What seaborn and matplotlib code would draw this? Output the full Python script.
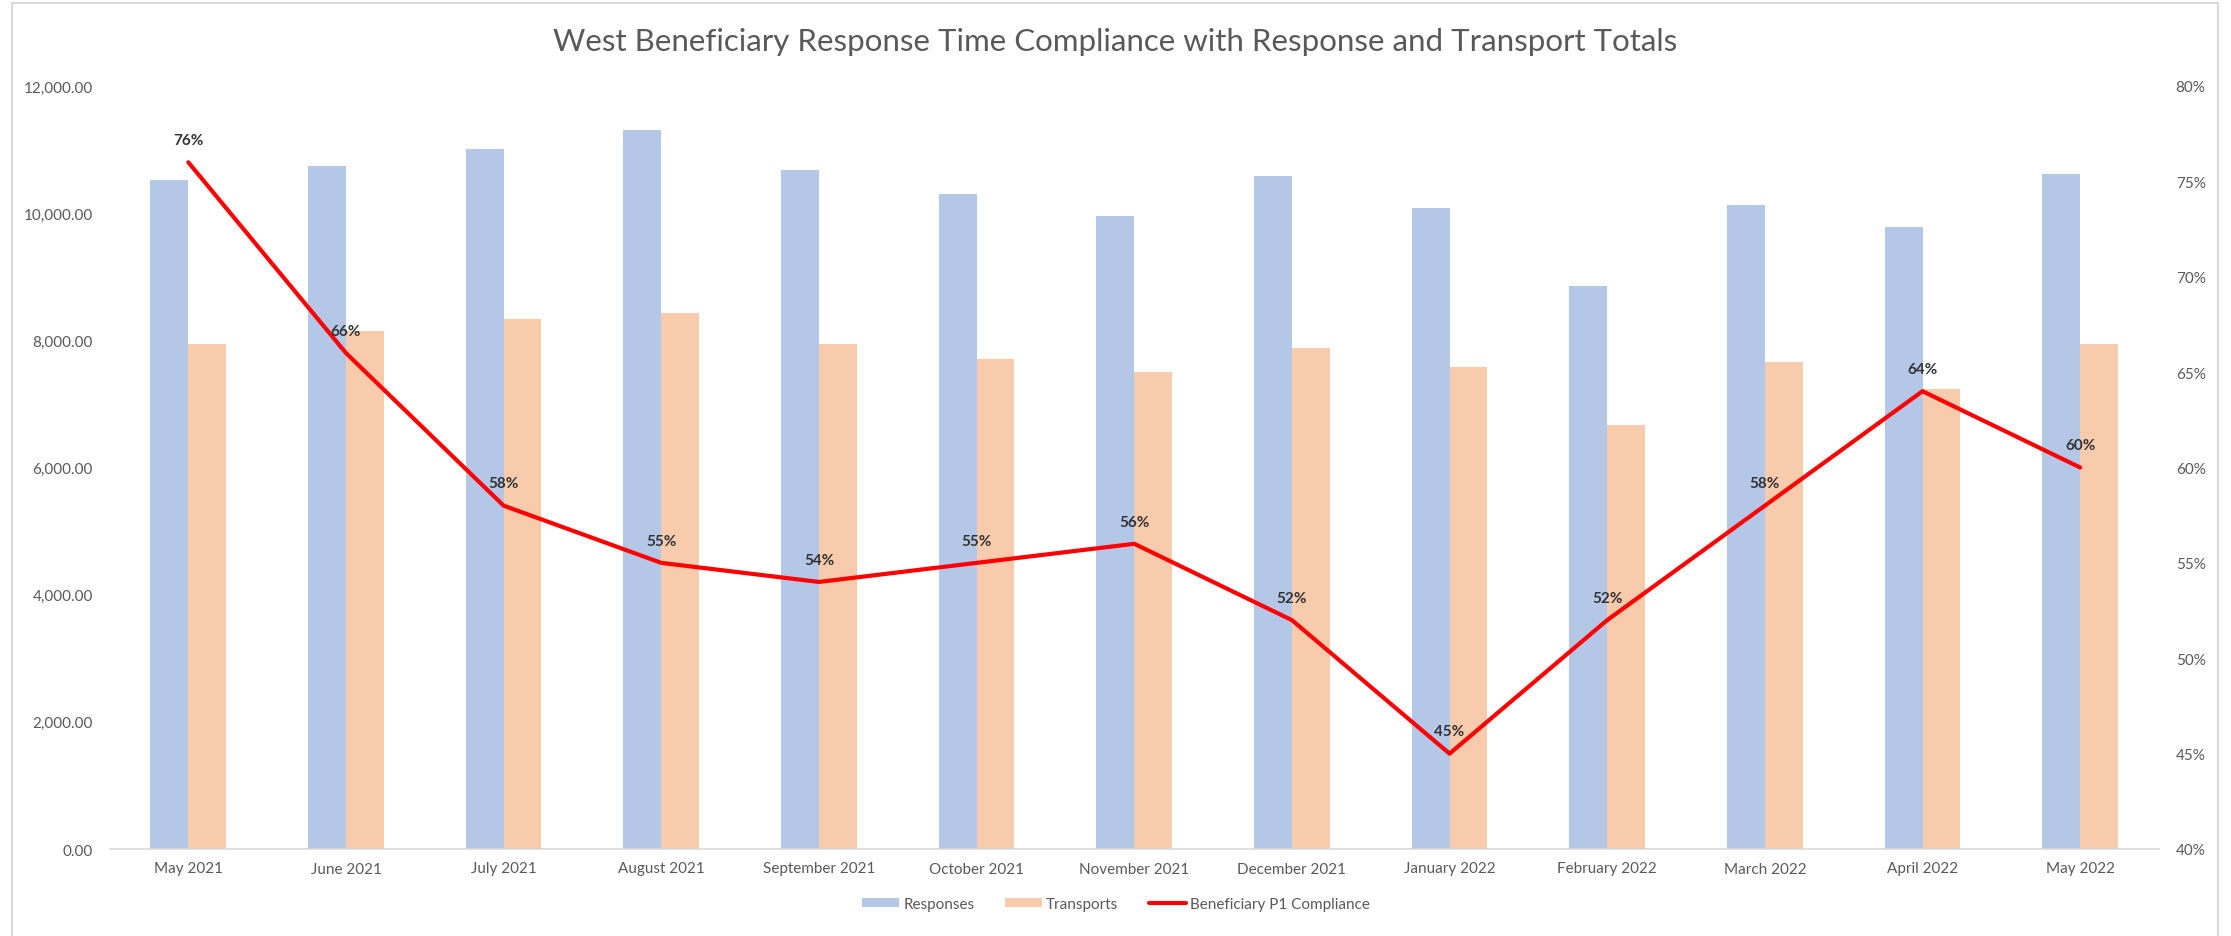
import numpy as np
import pandas as pd
import matplotlib
matplotlib.use('Agg')
import matplotlib.pyplot as plt
import seaborn as sns
from matplotlib.patches import Patch, Rectangle
from matplotlib.lines import Line2D
from matplotlib.ticker import FuncFormatter, MultipleLocator

sns.set_style("white")
plt.rcParams['font.family'] = ['Lato', 'DejaVu Sans']

months = ['May 2021', 'June 2021', 'July 2021', 'August 2021', 'September 2021',
          'October 2021', 'November 2021', 'December 2021', 'January 2022',
          'February 2022', 'March 2022', 'April 2022', 'May 2022']
responses = [10529, 10743, 11016, 11303, 10686, 10294, 9958, 10586, 10074, 8854, 10121, 9775, 10618]
transports = [7943, 8147, 8336, 8430, 7943, 7713, 7499, 7876, 7578, 6670, 7661, 7232, 7948]
compliance = [76, 66, 58, 55, 54, 55, 56, 52, 45, 52, 58, 64, 60]

TITLE = 'West Beneficiary Response Time Compliance with Response and Transport Totals'
BLUE = '#B4C7E7'
ORANGE = '#F8CBAD'
RED = '#FF0000'
GREY = '#595959'

df = pd.DataFrame({
    'month': months * 2,
    'series': ['Responses'] * len(months) + ['Transports'] * len(months),
    'value': responses + transports,
})

W, H = 2231, 937
fig = plt.figure(figsize=(W / 100, H / 100), dpi=100)
ax = fig.add_axes([109.5 / W, 1 - 850 / H, (2159 - 109.5) / W, (850 - 87) / H])

sns.barplot(data=df, x='month', y='value', hue='series',
            palette={'Responses': BLUE, 'Transports': ORANGE},
            width=0.48, gap=0, saturation=1, linewidth=0, legend=False, ax=ax)

ax.set_xlim(-0.5, len(months) - 0.5)
ax.set_ylim(0, 12000)
ax.yaxis.set_major_locator(MultipleLocator(2000))
ax.yaxis.set_major_formatter(FuncFormatter(lambda v, _: f'{v:,.2f}'))
ax.tick_params(axis='both', length=0, labelsize=11, labelcolor=GREY)
ax.tick_params(axis='y', pad=12)
ax.tick_params(axis='x', pad=9)
ax.set_xlabel('')
ax.set_ylabel('')
for side in ['top', 'left', 'right']:
    ax.spines[side].set_visible(False)
ax.spines['bottom'].set_color('#D9D9D9')
ax.spines['bottom'].set_linewidth(1.2)

# линия соответствия на правой оси
ax2 = ax.twinx()
x_pos = np.arange(len(months))
comp_frac = np.array(compliance) / 100
sns.lineplot(x=x_pos, y=comp_frac, color=RED, linewidth=3, ax=ax2)
ax2.lines[0].set_solid_joinstyle('round')
ax2.set_ylim(0.40, 0.80)
ax2.yaxis.set_major_locator(MultipleLocator(0.05))
ax2.yaxis.set_major_formatter(FuncFormatter(lambda v, _: f'{v:.0%}'))
ax2.tick_params(axis='y', length=0, labelsize=11, labelcolor=GREY, pad=12)
ax2.set_ylabel('')
for side in ['top', 'left', 'right', 'bottom']:
    ax2.spines[side].set_visible(False)

for i, p in enumerate(compliance):
    ax2.annotate(f'{p}%', (x_pos[i], comp_frac[i]), xytext=(0, 16),
                 textcoords='offset points', ha='center', va='center',
                 fontsize=11, fontweight='bold', color='#333333')

fig.text(0.5, 1 - 42 / H, TITLE, ha='center', va='center', fontsize=22.5, color=GREY)

handles = [
    Patch(facecolor=BLUE, edgecolor='none'),
    Patch(facecolor=ORANGE, edgecolor='none'),
    Line2D([0], [0], color=RED, linewidth=3),
]
labels = ['Responses', 'Transports', 'Beneficiary P1 Compliance']
fig.legend(handles, labels, loc='center', bbox_to_anchor=(1116 / W, 1 - 905 / H),
           ncol=3, frameon=False, fontsize=11, handlelength=2.4, handleheight=0.5,
           handletextpad=0.3, columnspacing=2.0, labelcolor=GREY)

# рамка вокруг диаграммы
fig.patches.append(Rectangle((12 / W, -0.01), (2218 - 12) / W, 1.01 - 4 / H,
                             transform=fig.transFigure, fill=False,
                             edgecolor='#D9D9D9', linewidth=1.5))

fig.savefig('out.png', dpi=100)
plt.close(fig)
